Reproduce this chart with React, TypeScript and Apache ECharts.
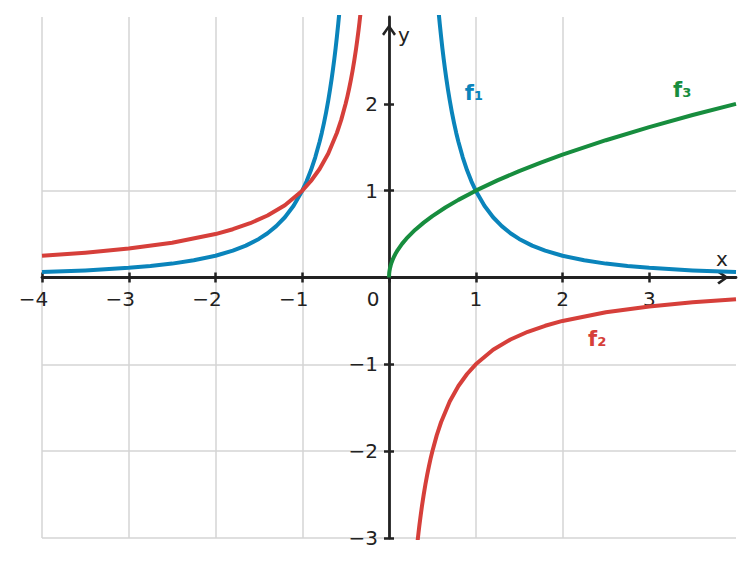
import React, { useEffect, useRef } from 'react';
import * as echarts from 'echarts';

const f1LeftX = [-4, -3.5, -3, -2.75, -2.5, -2.25, -2, -1.8, -1.65, -1.5, -1.4, -1.3, -1.2, -1.1, -1, -0.95, -0.9, -0.85, -0.8, -0.775, -0.75, -0.725, -0.7, -0.68, -0.66, -0.645, -0.63, -0.615, -0.6, -0.585, -0.57];
const f1LeftY = [0.0625, 0.082, 0.111, 0.132, 0.16, 0.198, 0.25, 0.309, 0.367, 0.444, 0.51, 0.592, 0.694, 0.826, 1, 1.108, 1.235, 1.384, 1.563, 1.665, 1.778, 1.902, 2.041, 2.163, 2.296, 2.404, 2.52, 2.644, 2.778, 2.922, 3.078];
const f1RightX = [0.57, 0.585, 0.6, 0.615, 0.63, 0.645, 0.66, 0.68, 0.7, 0.725, 0.75, 0.775, 0.8, 0.85, 0.9, 0.95, 1, 1.1, 1.2, 1.3, 1.4, 1.5, 1.65, 1.8, 2, 2.25, 2.5, 2.75, 3, 3.5, 4];
const f1RightY = [3.078, 2.922, 2.778, 2.644, 2.52, 2.404, 2.296, 2.163, 2.041, 1.902, 1.778, 1.665, 1.563, 1.384, 1.235, 1.108, 1, 0.826, 0.694, 0.592, 0.51, 0.444, 0.367, 0.309, 0.25, 0.198, 0.16, 0.132, 0.111, 0.082, 0.0625];

const f2LeftX = [-4, -3.5, -3, -2.5, -2, -1.8, -1.6, -1.4, -1.2, -1, -0.9, -0.8, -0.7, -0.6, -0.55, -0.5, -0.48, -0.46, -0.44, -0.42, -0.4, -0.38, -0.365, -0.35, -0.34, -0.33];
const f2LeftY = [0.25, 0.286, 0.333, 0.4, 0.5, 0.556, 0.625, 0.714, 0.833, 1, 1.111, 1.25, 1.429, 1.667, 1.818, 2, 2.083, 2.174, 2.273, 2.381, 2.5, 2.632, 2.74, 2.857, 2.941, 3.03];
const f2RightX = [0.33, 0.34, 0.35, 0.365, 0.38, 0.4, 0.42, 0.44, 0.46, 0.48, 0.5, 0.55, 0.6, 0.7, 0.8, 0.9, 1, 1.2, 1.4, 1.6, 1.8, 2, 2.5, 3, 3.5, 4];
const f2RightY = [-3.03, -2.941, -2.857, -2.74, -2.632, -2.5, -2.381, -2.273, -2.174, -2.083, -2, -1.818, -1.667, -1.429, -1.25, -1.111, -1, -0.833, -0.714, -0.625, -0.556, -0.5, -0.4, -0.333, -0.286, -0.25];

const f3X = [0, 0.002, 0.005, 0.01, 0.02, 0.03, 0.045, 0.06, 0.08, 0.1, 0.15, 0.2, 0.3, 0.4, 0.5, 0.65, 0.8, 1, 1.25, 1.5, 1.75, 2, 2.5, 3, 3.5, 4];
const f3Y = [0, 0.045, 0.071, 0.1, 0.141, 0.173, 0.212, 0.245, 0.283, 0.316, 0.387, 0.447, 0.548, 0.632, 0.707, 0.806, 0.894, 1, 1.118, 1.225, 1.323, 1.414, 1.581, 1.732, 1.871, 2];

const xTicks = [-4, -3, -2, -1, 0, 1, 2, 3];
const yTicks = [-3, -2, -1, 0, 1, 2];
const xLabels = [-4, -3, -2, -1, 0, 1, 2, 3];
const yLabels = [-3, -2, -1, 1, 2];

const curveNames = ['f₁', 'f₂', 'f₃'];
const curveLabelAt = [[0.98, 2.13], [2.4, -0.71], [3.38, 2.16]];

const BLUE = '#0a84bb';
const RED = '#d63f3a';
const GREEN = '#178d3e';
const colors = [BLUE, RED, GREEN];
const INK = '#222222';
const FONT = 'DejaVu Sans';

// open arrow head, pointing up before echarts rotates it
const chevron = 'path://M7,0 L14,9.8 L12,11.6 L7,4.4 L2,11.6 L0,9.8 Z';

const pairs = (xs: number[], ys: number[]) => xs.map((x, i) => [x, ys[i]]);
const fmt = (v: number) => (v < 0 ? '\u2212' + Math.abs(v) : String(v));

export default function App() {
    const chartRef = useRef<HTMLDivElement>(null);

    useEffect(() => {
        if (!chartRef.current) return;
        const chart = echarts.init(chartRef.current, null, { renderer: 'svg' });

        const line = (name: string, data: number[][], color: string) => ({
            name,
            type: 'line',
            data,
            xAxisIndex: 0,
            yAxisIndex: 0,
            showSymbol: false,
            clip: true,
            lineStyle: { color, width: 4, join: 'round', cap: 'butt' },
            z: 3,
        });

        const tickStyle = { color: INK, width: 2.5 };
        const labelText = { color: INK, fontSize: 20, fontFamily: FONT };

        // labels stay at the grid edge, so pull them back onto the zero lines
        const mainX = {
            type: 'value',
            position: 'bottom',
            min: -4,
            max: 4,
            interval: 1,
            name: 'x',
            nameLocation: 'end',
            nameGap: -20,
            nameTextStyle: { ...labelText, verticalAlign: 'bottom', padding: [0, 0, 9, 0] },
            axisLine: {
                onZero: true,
                onZeroAxisIndex: 0,
                symbol: ['none', chevron],
                symbolSize: [14, 12],
                symbolOffset: [0, -13],
                lineStyle: { color: INK, width: 2.8 },
            },
            axisTick: { show: true, customValues: xTicks, length: 5, lineStyle: tickStyle },
            axisLabel: {
                customValues: xLabels,
                margin: -249,
                ...labelText,
                // digit sits on the tick, minus sign hangs to the left
                formatter: (v: number) => (v === 0 ? '{o|0}' : v < 0 ? '{n|' + fmt(v) + '}' : fmt(v)),
                rich: {
                    o: { ...labelText, padding: [0, 32, 0, 0] },
                    n: { ...labelText, padding: [0, 17, 0, 0] },
                },
            },
            splitLine: { show: true, showMaxLine: false, lineStyle: { color: '#d4d4d4', width: 1.5 } },
        };

        const tickX = {
            type: 'value',
            position: 'bottom',
            min: -4,
            max: 4,
            interval: 1,
            axisLine: { show: false, onZero: true, onZeroAxisIndex: 0 },
            axisTick: { show: true, inside: true, customValues: xTicks, length: 5, lineStyle: tickStyle },
            axisLabel: { show: false },
            splitLine: { show: false },
        };

        const mainY = {
            type: 'value',
            position: 'left',
            min: -3,
            max: 3,
            interval: 1,
            name: 'y',
            nameLocation: 'end',
            nameGap: -28,
            nameTextStyle: { ...labelText, align: 'left', verticalAlign: 'bottom', padding: [0, 0, 0, 9] },
            axisLine: {
                onZero: true,
                onZeroAxisIndex: 0,
                symbol: ['none', chevron],
                symbolSize: [14, 12],
                symbolOffset: [0, -13],
                lineStyle: { color: INK, width: 2.8 },
            },
            axisTick: { show: true, customValues: yTicks, length: 5, lineStyle: tickStyle },
            axisLabel: { customValues: yLabels, margin: -336, ...labelText, formatter: fmt },
            splitLine: { show: true, showMaxLine: false, lineStyle: { color: '#d4d4d4', width: 1.5 } },
        };

        const tickY = {
            type: 'value',
            position: 'left',
            min: -3,
            max: 3,
            interval: 1,
            axisLine: { show: false, onZero: true, onZeroAxisIndex: 0 },
            axisTick: { show: true, inside: true, customValues: yTicks, length: 5, lineStyle: tickStyle },
            axisLabel: { show: false },
            splitLine: { show: false },
        };

        chart.setOption({
            animation: false,
            backgroundColor: '#ffffff',
            grid: { left: 42, right: 19, top: 17, bottom: 29 },
            xAxis: [mainX, tickX],
            yAxis: [mainY, tickY],
            series: [
                line('f1-left', pairs(f1LeftX, f1LeftY), BLUE),
                line('f1-right', pairs(f1RightX, f1RightY), BLUE),
                line('f2-left', pairs(f2LeftX, f2LeftY), RED),
                line('f2-right', pairs(f2RightX, f2RightY), RED),
                line('f3', pairs(f3X, f3Y), GREEN),
                {
                    type: 'scatter',
                    xAxisIndex: 0,
                    yAxisIndex: 0,
                    symbolSize: 0,
                    silent: true,
                    z: 4,
                    itemStyle: { opacity: 1, color: 'transparent' },
                    data: curveNames.map((n, i) => ({
                        name: n,
                        value: curveLabelAt[i],
                        label: { color: colors[i] },
                    })),
                    label: {
                        show: true,
                        position: 'inside',
                        formatter: '{b}',
                        fontSize: 21,
                        fontWeight: 'bold',
                        fontFamily: FONT,
                    },
                },
            ],
        });

        return () => {
            chart.dispose();
        };
    }, []);

    return (
        <div
            ref={chartRef}
            style={{ position: 'fixed', left: 0, top: 0, width: '755px', height: '567px', background: '#fff' }}
        ></div>
    );
}
